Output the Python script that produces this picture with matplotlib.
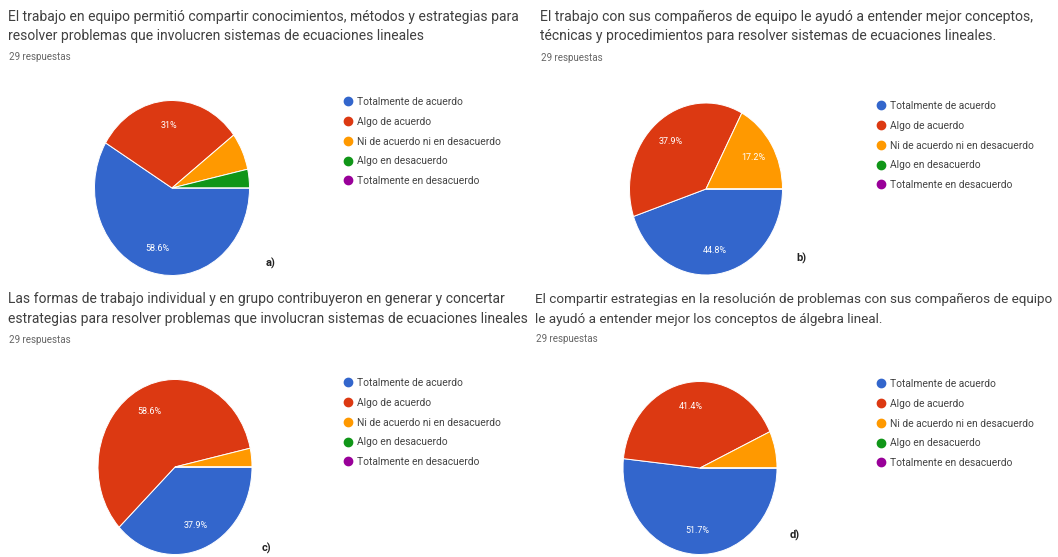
import matplotlib
matplotlib.use("Agg")
import matplotlib.pyplot as plt
from matplotlib.lines import Line2D

W, H = 1058, 557

categories = ["Totalmente de acuerdo", "Algo de acuerdo", "Ni de acuerdo ni en desacuerdo",
              "Algo en desacuerdo", "Totalmente en desacuerdo"]
colors = ["#3366cc", "#dc3912", "#ff9900", "#109618", "#990099"]

counts_a = [17, 9, 2, 1, 0]
counts_b = [13, 11, 5, 0, 0]
counts_c = [11, 17, 1, 0, 0]
counts_d = [15, 12, 2, 0, 0]

title_a = ["El trabajo en equipo permitió compartir conocimientos, métodos y estrategias para",
           "resolver problemas que involucren sistemas de ecuaciones lineales"]
title_b = ["El trabajo con sus compañeros de equipo le ayudó a entender mejor conceptos,",
           "técnicas y procedimientos para resolver sistemas de ecuaciones lineales."]
title_c = ["Las formas de trabajo individual y en grupo contribuyeron en generar y concertar",
           "estrategias para resolver problemas que involucran sistemas de ecuaciones lineales"]
title_d = ["El compartir estrategias en la resolución de problemas con sus compañeros de equipo",
           "le ayudó a entender mejor los conceptos de álgebra lineal."]
responses = "29 respuestas"
tags = ["a)", "b)", "c)", "d)"]

plt.rcParams['font.family'] = ['Roboto', 'DejaVu Sans']
fig = plt.figure(figsize=(W / 100, H / 100), dpi=100)
fig.patch.set_facecolor("white")

def fx(x):
    return x / W

def fy(y):
    return 1 - y / H

def fmt(p):
    if p < 10:
        return ""
    s = f"{p:.1f}"
    if s.endswith(".0"):
        s = s[:-2]
    return s + "%"

panels = [
    # counts, title, (title x, first line y, line gap, responses y), pie center, pie size,
    # legend anchor, tag pos, title font size
    (counts_a, title_a, (8, 17, 19, 57), (172, 188), (155, 175), (344, 97), (266, 263), tags[0], 10.0),
    (counts_b, title_b, (540, 17, 19, 58), (706, 189), (153, 172), (877, 101), (796, 258), tags[1], 10.1),
    (counts_c, title_c, (8, 299, 20, 340), (175, 467), (154, 175), (344, 378), (262, 548), tags[2], 10.0),
    (counts_d, title_d, (535, 299, 20, 339), (700, 468), (154, 173), (877, 379), (790, 535), tags[3], 9.7),
]

for counts, title, tpos, center, size, lpos, tagpos, tag, tfs in panels:
    tx, ty, gap, ry = tpos
    for i, line in enumerate(title):
        fig.text(fx(tx), fy(ty + i * gap), line, fontsize=tfs, color="#404040",
                 va="center", ha="left")
    fig.text(fx(tx + 1), fy(ry), responses, fontsize=7, color="#666666", va="center", ha="left")

    cx, cy = center
    w, h = size
    ax = fig.add_axes([fx(cx - w / 2), fy(cy + h / 2), w / W, h / H])
    wedges, texts, autotexts = ax.pie(
        counts, colors=colors, startangle=0, counterclock=False,
        autopct=fmt, pctdistance=0.72,
        wedgeprops=dict(edgecolor="white", linewidth=0.7),
        textprops=dict(color="white", fontsize=6.5))
    ax.set_aspect("auto")
    ax.set_xlim(-1.0, 1.0)
    ax.set_ylim(-1.0, 1.0)
    ax.axis("off")

    handles = [Line2D([0], [0], marker="o", linestyle="", markersize=6,
                      markerfacecolor=c, markeredgecolor=c) for c in colors]
    lx, ly = lpos
    fig.legend(handles, categories, loc="upper left", bbox_to_anchor=(fx(lx), fy(ly)),
               frameon=False, fontsize=7.4, labelspacing=0.95, handletextpad=0.5,
               handlelength=0.8, borderpad=0, borderaxespad=0, labelcolor="#444444")

    fig.text(fx(tagpos[0]), fy(tagpos[1]), tag, fontsize=8, color="#222222",
             fontweight="bold", va="center", ha="left")

fig.savefig("out.png", dpi=100, facecolor="white")
